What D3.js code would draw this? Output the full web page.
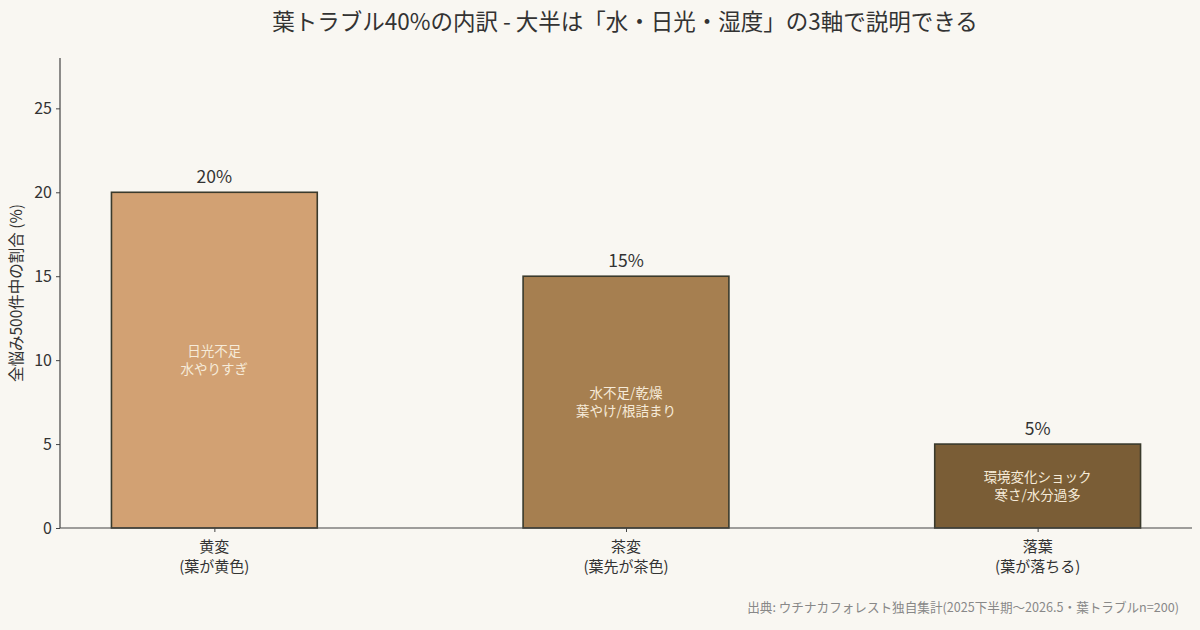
<!DOCTYPE html>
<html><head><meta charset="utf-8">
<script src="https://cdn.jsdelivr.net/npm/d3@7"></script>
<style>
html,body{margin:0;padding:0;background:#F9F7F2;}
text{font-family:"Noto Sans CJK JP","Noto Sans",sans-serif;}
</style></head>
<body><svg id="c" width="1200" height="630"></svg>
<script>
const categories = ["黄変\n(葉が黄色)", "茶変\n(葉先が茶色)", "落葉\n(葉が落ちる)"];
const values = [20, 15, 5];
const innerLabels = ["日光不足\n水やりすぎ", "水不足/乾燥\n葉やけ/根詰まり", "環境変化ショック\n寒さ/水分過多"];
const colors = ["#D2A173", "#A67F50", "#7A5D36"];
const yTicks = [0, 5, 10, 15, 20, 25];
const title = "葉トラブル40%の内訳 - 大半は「水・日光・湿度」の3軸で説明できる";
const yLabel = "全悩み500件中の割合 (%)";
const source = "出典: ウチナカフォレスト独自集計(2025下半期〜2026.5・葉トラブルn=200)";

const svg = d3.select("#c");
svg.append("rect").attr("width",1200).attr("height",630).attr("fill","#F9F7F2");
const L=60, R=1192, T=58, B=528;
const x = d3.scaleLinear().domain([-0.375, categories.length-1+0.375]).range([L,R]);
const y = d3.scaleLinear().domain([0,28]).range([B,T]);
const bw = x(0.25)-x(-0.25);

const g = svg.append("g");
g.selectAll("rect.bar").data(values).enter().append("rect")
 .attr("x",(d,i)=>x(i)-bw/2).attr("y",d=>y(d)).attr("width",bw).attr("height",d=>y(0)-y(d))
 .attr("fill",(d,i)=>colors[i]).attr("stroke","#3A3A2C").attr("stroke-width",1.6);

g.selectAll("text.val").data(values).enter().append("text")
 .attr("x",(d,i)=>x(i)).attr("y",d=>y(d)-9).attr("text-anchor","middle")
 .attr("font-size",17.5).attr("fill","#333").text(d=>d+"%");

values.forEach((v,i)=>{
  const lines = innerLabels[i].split("\n");
  lines.forEach((ln,j)=>g.append("text").attr("x",x(i)).attr("y",y(v/2)+(j-0.5)*18.5+5)
    .attr("text-anchor","middle").attr("font-size",13.5).attr("fill","#F6EBD9").text(ln));
});

// y axis
const ya = svg.append("g").attr("transform",`translate(${L},0)`)
 .call(d3.axisLeft(y).tickValues(yTicks).tickSize(4).tickPadding(4));
ya.select(".domain").attr("stroke","#444").attr("stroke-width",1.2).attr("d",`M-0,${B}V${T}`);
ya.selectAll(".tick line").attr("stroke","#444");
ya.selectAll(".tick text").attr("font-size",16).attr("fill","#333").style("font-family",'"Noto Sans CJK JP",sans-serif');

// x axis
const xa = svg.append("g").attr("transform",`translate(0,${B})`)
 .call(d3.axisBottom(x).tickValues(d3.range(categories.length)).tickSize(4).tickFormat(""));
xa.select(".domain").attr("stroke","#444").attr("stroke-width",1.2).attr("d",`M${L},0H${R}`);
xa.selectAll(".tick line").attr("stroke","#444");
categories.forEach((c,i)=>{
  c.split("\n").forEach((ln,j)=>svg.append("text").attr("text-anchor","middle").attr("font-size",15)
    .attr("fill","#333").attr("x",x(i)).attr("y",B+24+j*20).text(ln));
});

svg.append("text").attr("x",625).attr("y",30).attr("text-anchor","middle")
 .attr("font-size",22.5).attr("fill","#333").text(title);
svg.append("text").attr("transform",`translate(22,${(T+B)/2}) rotate(-90)`).attr("text-anchor","middle")
 .attr("font-size",15.5).attr("fill","#333").text(yLabel);
svg.append("text").attr("x",1179).attr("y",612).attr("text-anchor","end")
 .attr("font-size",12.6).attr("fill","#888").text(source);
</script></body></html>
